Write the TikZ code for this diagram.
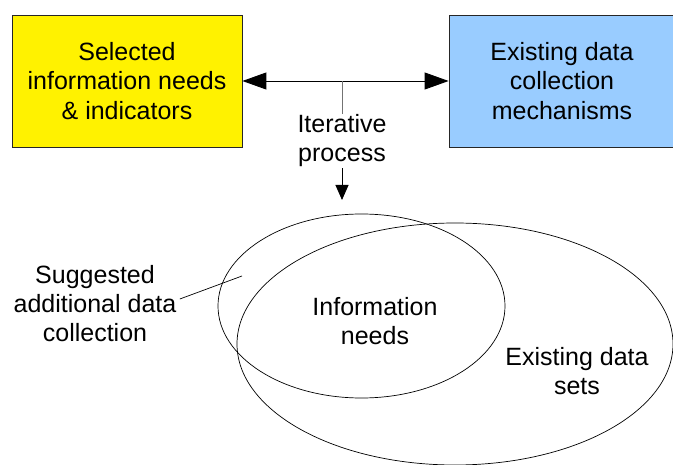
\documentclass[tikz,border=0pt]{standalone}
\usepackage{fontspec}
\setmainfont{Liberation Sans}
\usetikzlibrary{arrows.meta}
\definecolor{skyblue}{RGB}{153,204,255}

\begin{document}
\begin{tikzpicture}[x=1pt,y=-1pt,
		box/.style={draw=black!85, line width=0.8pt, minimum width=230pt, minimum height=132pt, align=center, font=\fontsize{25}{29.5}\selectfont},
		lbl/.style={align=center, font=\fontsize{25}{29}\selectfont},
		bigtip/.style={line width=0.9pt, -{Triangle[length=24pt,width=17pt]}},
		downtip/.style={line width=0.9pt, -{Triangle[length=15pt,width=13pt]}}]
					\useasboundingbox (0,0) rectangle (673,465);
					
					\node[box, fill=yellow] (sel) at (127,81) {Selected\\information needs\\\& indicators};
					\node[box, fill=skyblue, minimum width=226pt] (exist) at (562,81) {Existing data\\collection\\mechanisms};
					\node[lbl, inner sep=1pt] (iter) at (342,141) {Iterative\\process};
					\coordinate (mid) at (342,81);
					\coordinate (down) at (342,200);
					\draw[bigtip] (mid) -- (sel.east);
					\draw[bigtip] (mid) -- (exist.west);
					\draw[line width=0.9pt, black!55] (mid) -- (iter.north);
					\draw[downtip] (iter.south) -- (down);
					
					\draw[line width=0.7pt] (361.5,306) ellipse [x radius=143.5pt, y radius=92pt];
					\draw[line width=0.7pt] (455,344) ellipse [x radius=218pt, y radius=121pt];
					\node[lbl] (sugg) at (95,304) {Suggested\\additional data\\collection};
					\node[lbl] (need) at (375,321) {Information\\needs};
					\node[lbl] (sets) at (577,371) {Existing data\\sets};
					\coordinate (gap) at (242,276);
					\draw[line width=0.7pt] ([yshift=5pt]sugg.east) -- (gap);
				\end{tikzpicture}
\end{document}
